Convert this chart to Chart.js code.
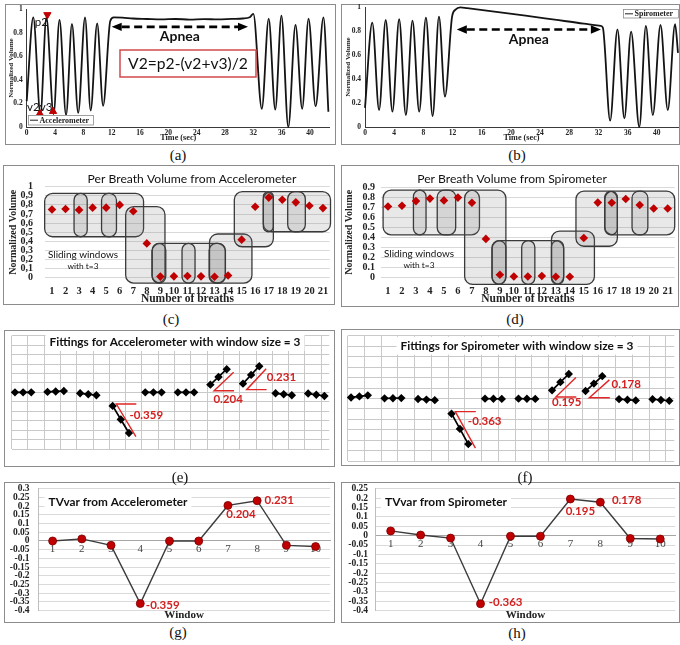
<!DOCTYPE html>
<html lang="en">
<head>
<meta charset="utf-8">
<title>Accelerometer and spirometer: per-breath volume and TVvar</title>
<script src="https://cdn.jsdelivr.net/npm/chart.js@4.4.1/dist/chart.umd.min.js"></script>
<style>
  html, body { margin: 0; padding: 0; background: #ffffff; }
  body { position: relative; width: 680px; height: 645px; overflow: hidden; }
  .frame { position: absolute; box-sizing: border-box; border: 1px solid #8c8c8c; }
  canvas.plot { position: absolute; }
  .cap { position: absolute; width: 40px; height: 18px; margin: -9px 0 0 -20px; text-align: center;
         font: 15px 'Liberation Serif', 'Times New Roman', serif; line-height: 18px; color: #111; }
</style>
</head>
<body>
  <div class="frame" style="left:5px;top:4px;width:331px;height:141px"></div>
  <div class="frame" style="left:341px;top:4px;width:339px;height:141px"></div>
  <div class="frame" style="left:3px;top:165px;width:332px;height:140px"></div>
  <div class="frame" style="left:341px;top:165px;width:338px;height:142px"></div>
  <div class="frame" style="left:4px;top:330px;width:331px;height:137px"></div>
  <div class="frame" style="left:341px;top:329px;width:339px;height:137px"></div>
  <div class="frame" style="left:4px;top:482px;width:331px;height:141px"></div>
  <div class="frame" style="left:341px;top:482px;width:339px;height:141px"></div>

  <canvas id="chartA" class="plot" width="330" height="140" style="left:5px;top:4px"></canvas>
  <canvas id="chartB" class="plot" width="337" height="140" style="left:342px;top:4px"></canvas>
  <canvas id="chartC" class="plot" width="331" height="138" style="left:3px;top:168px"></canvas>
  <canvas id="chartD" class="plot" width="337" height="138" style="left:342px;top:168px"></canvas>
  <canvas id="chartE" class="plot" width="331" height="137" style="left:4px;top:330px"></canvas>
  <canvas id="chartF" class="plot" width="338" height="137" style="left:342px;top:330px"></canvas>
  <canvas id="chartG" class="plot" width="331" height="140" style="left:4px;top:482px"></canvas>
  <canvas id="chartH" class="plot" width="338" height="140" style="left:342px;top:482px"></canvas>

  <div class="cap" style="left:178px;top:155px">(a)</div>
  <div class="cap" style="left:517px;top:155px">(b)</div>
  <div class="cap" style="left:171px;top:319px">(c)</div>
  <div class="cap" style="left:515px;top:319px">(d)</div>
  <div class="cap" style="left:180px;top:477px">(e)</div>
  <div class="cap" style="left:525px;top:477px">(f)</div>
  <div class="cap" style="left:178px;top:632px">(g)</div>
  <div class="cap" style="left:517px;top:633px">(h)</div>

<script>
// ---------------- data ----------------
const timeTicks = [0, 4, 8, 12, 16, 20, 24, 28, 32, 36, 40];
const volumeTicks = [0, 0.2, 0.4, 0.6, 0.8, 1];

// Accelerometer trace: turning points of the breathing signal (s, normalized volume)
const accelTime = [0, 0.93, 1.94, 2.78, 3.8, 4.63, 5.56, 6.39, 7.27, 8.24,
  9.03, 9.95, 10.79, 11.8, 12.3, 13.5, 15, 17, 19, 21,
  23, 25, 27, 29, 30.5, 31.5, 32.0, 33.2, 34.17, 35.1,
  35.97, 36.94, 37.96, 38.9, 39.8, 40.8, 41.9, 42.6];
const accelVolume = [0.22, 0.93, 0.11, 0.93, 0.11, 0.91, 0.10, 0.875, 0.12, 0.93,
  0.14, 0.88, 0.18, 0.90, 0.93, 0.928, 0.921, 0.917, 0.913, 0.917,
  0.912, 0.916, 0.913, 0.918, 0.921, 0.932, 0.96, 0.155, 0.92, 0.147,
  0.945, 0.0, 0.867, 0.155, 0.92, 0.175, 0.93, 0.13];

// Spirometer trace
const spiroTime = [0, 1.0, 1.93, 2.84, 3.76, 4.68, 5.6, 6.51, 7.43, 8.35,
  9.27, 10.14, 10.96, 11.93, 12.4, 13.07, 14, 18, 22, 26,
  30, 32.3, 32.6, 33.6, 34.6, 35.55, 36.47, 37.6, 38.5, 39.45,
  40.5, 41.5, 42.5, 42.9];
const spiroVolume = [0.16, 0.872, 0.142, 0.894, 0.128, 0.9, 0.1, 0.889, 0.128, 0.914,
  0.092, 0.922, 0.253, 0.92, 0.98, 1.0, 0.993, 0.962, 0.93, 0.897,
  0.864, 0.845, 0.83, 0.053, 0.816, 0.072, 0.797, 0.0, 0.844, 0.1,
  0.852, 0.142, 0.86, 0.62];

// Peak p2 and valleys v2, v3 marked on the accelerometer trace
const markerNames = ['p2', 'v2', 'v3'];
const markerTime = [2.92, 1.85, 3.72];
const markerVolume = [0.953, 0.114, 0.133];

// Apnea span: [from s, to s, volume level of the arrow]
const apneaAccel = [12.0, 31.25, 0.85];
const apneaSpiro = [12.58, 32.33, 0.814];

const breathLabels = ['1', '2', '3', '4', '5', '6', '7', '8', '9', '10', '11',
  '12', '13', '14', '15', '16', '17', '18', '19', '20', '21'];
const accelBreathVolume = [0.75, 0.755, 0.745, 0.77, 0.77, 0.80, 0.73, 0.377, 0.012, 0.015, 0.018,
  0.015, 0.01, 0.025, 0.418, 0.78, 0.88, 0.857, 0.828, 0.79, 0.765];
const spiroBreathVolume = [0.71, 0.718, 0.765, 0.79, 0.772, 0.80, 0.748, 0.384, 0.022, 0.005, 0.005,
  0.01, 0.003, 0.003, 0.393, 0.75, 0.749, 0.786, 0.725, 0.69, 0.69];
const accelBreathTicks = [0, 0.1, 0.2, 0.3, 0.4, 0.5, 0.6, 0.7, 0.8, 0.9, 1];
const spiroBreathTicks = [0, 0.1, 0.2, 0.3, 0.4, 0.5, 0.6, 0.7, 0.8, 0.9];

// Sliding-window outlines: [first breath edge, last breath edge, low, high, corner radius]
const accelWindowBoxes = [
  [0.46, 7.76, 0.45, 0.927, 8], [6.44, 9.34, -0.06, 0.78, 8], [8.39, 13.8, -0.06, 0.377, 8],
  [12.63, 15.76, -0.06, 0.48, 8], [14.46, 17.34, 0.34, 0.945, 8], [16.6, 21.56, 0.505, 0.945, 8],
  [2.63, 3.6, 0.45, 0.927, 7], [4.66, 5.76, 0.45, 0.927, 7], [8.39, 9.4, -0.06, 0.377, 7],
  [10.6, 11.56, -0.06, 0.377, 7], [12.6, 13.8, -0.06, 0.377, 7], [16.6, 17.34, 0.505, 0.945, 7],
  [18.4, 19.7, 0.505, 0.945, 7]
];
const spiroWindowBoxes = [
  [0.65, 7.54, 0.425, 0.876, 8], [6.48, 9.43, -0.075, 0.876, 8], [8.44, 13.56, -0.075, 0.367, 8],
  [12.69, 15.76, -0.075, 0.462, 8], [14.44, 17.4, 0.31, 0.866, 8], [16.5, 21.5, 0.425, 0.866, 8],
  [2.82, 3.72, 0.425, 0.876, 7], [4.52, 5.84, 0.425, 0.876, 7], [8.44, 9.43, -0.075, 0.367, 7],
  [10.56, 11.5, -0.075, 0.367, 7], [12.69, 13.56, -0.075, 0.367, 7], [16.5, 17.4, 0.425, 0.866, 7],
  [18.45, 19.58, 0.425, 0.866, 7]
];

const windowLabels = ['1', '2', '3', '4', '5', '6', '7', '8', '9', '10'];
const accelTVvar = [0.0, 0.012, -0.025, -0.359, 0.0, 0.0, 0.204, 0.231, -0.025, -0.032];
const spiroTVvar = [0.025, 0.003, -0.013, -0.363, -0.003, -0.003, 0.195, 0.178, -0.015, -0.018];
const accelTVTicks = [-0.4, -0.35, -0.3, -0.25, -0.2, -0.15, -0.1, -0.05, 0, 0.05, 0.1, 0.15, 0.2, 0.25, 0.3];
const spiroTVTicks = [-0.4, -0.35, -0.3, -0.25, -0.2, -0.15, -0.1, -0.05, 0, 0.05, 0.1, 0.15, 0.2, 0.25];
const labelledWindows = [3, 6, 7]; // windows whose slope value is written next to them

// ---------------- shared setup ----------------
const SERIF = "'Liberation Serif', 'Times New Roman', serif";
const SANS = "Lato, 'Open Sans', sans-serif";

Chart.defaults.font.family = SERIF;
Chart.defaults.color = '#1a1a1a';
Chart.defaults.animation = false;
Chart.defaults.responsive = false;
Chart.defaults.maintainAspectRatio = false;
Chart.defaults.devicePixelRatio = 1;
Chart.defaults.events = [];
Chart.defaults.plugins.legend.display = false;
Chart.defaults.plugins.tooltip.enabled = false;

const noPad = s => { s.paddingLeft = s.paddingRight = s.paddingTop = s.paddingBottom = 0; };
const fixWidth = w => s => { s.width = w; noPad(s); };
const fixHeight = h => s => { s.height = h; noPad(s); };
const tickList = list => s => { s.ticks = list.map(v => ({ value: v })); };
const plain = v => String(Math.round(v * 1000) / 1000);
const decimalComma = v => plain(v).replace('.', ',');
const NO_GRID = { display: false, drawTicks: false };

function fontSizeFor(ctx, str, width, weight, family) {
  ctx.save();
  ctx.font = `${weight} 20px ${family}`;
  const w = ctx.measureText(str).width;
  ctx.restore();
  return 20 * width / w;
}
function text(ctx, str, x, y, o = {}) {
  ctx.save();
  ctx.font = `${o.weight || 'normal'} ${o.size || 12}px ${o.family || SANS}`;
  ctx.fillStyle = o.color || '#111';
  ctx.textAlign = o.align || 'center';
  ctx.textBaseline = 'middle';
  ctx.fillText(str, x, y);
  ctx.restore();
}
function fittedText(ctx, str, cx, cy, width, o = {}) {
  const size = fontSizeFor(ctx, str, width, o.weight || 'normal', o.family || SANS);
  if (o.background) {
    ctx.save();
    ctx.fillStyle = o.background;
    ctx.fillRect(cx - width / 2 - 4, cy - size * 0.75, width + 8, size * 1.5);
    ctx.restore();
  }
  text(ctx, str, cx, cy, Object.assign({}, o, { size }));
}
function roundedRect(ctx, x, y, w, h, r) {
  r = Math.max(0, Math.min(r, w / 2, h / 2));
  ctx.beginPath();
  ctx.moveTo(x + r, y);
  ctx.lineTo(x + w - r, y); ctx.arcTo(x + w, y, x + w, y + r, r);
  ctx.lineTo(x + w, y + h - r); ctx.arcTo(x + w, y + h, x + w - r, y + h, r);
  ctx.lineTo(x + r, y + h); ctx.arcTo(x, y + h, x, y + h - r, r);
  ctx.lineTo(x, y + r); ctx.arcTo(x, y, x + r, y, r);
  ctx.closePath();
}
function apneaArrow(ctx, xa, xb, yy) {
  const head = 10, half = 4.2;
  ctx.save();
  ctx.strokeStyle = '#000'; ctx.lineWidth = 2.6; ctx.setLineDash([8, 4.5]);
  ctx.beginPath(); ctx.moveTo(xa + head, yy); ctx.lineTo(xb - head, yy); ctx.stroke();
  ctx.setLineDash([]); ctx.fillStyle = '#000';
  ctx.beginPath(); ctx.moveTo(xa, yy); ctx.lineTo(xa + head, yy - half); ctx.lineTo(xa + head, yy + half); ctx.closePath(); ctx.fill();
  ctx.beginPath(); ctx.moveTo(xb, yy); ctx.lineTo(xb - head, yy - half); ctx.lineTo(xb - head, yy + half); ctx.closePath(); ctx.fill();
  ctx.restore();
}
function legendBox(ctx, x, y, w, h, label) {
  ctx.save();
  ctx.fillStyle = '#fff'; ctx.fillRect(x, y, w, h);
  ctx.strokeStyle = '#8a8a8a'; ctx.lineWidth = 0.8; ctx.strokeRect(x + 0.5, y + 0.5, w, h);
  ctx.strokeStyle = '#555'; ctx.lineWidth = 1.3;
  ctx.beginPath(); ctx.moveTo(x + 2, y + h / 2 + 0.5); ctx.lineTo(x + 10, y + h / 2 + 0.5); ctx.stroke();
  ctx.restore();
  text(ctx, label, x + 11.5, y + h / 2 + 0.8, { family: SERIF, weight: 'bold', size: 8, align: 'left', color: '#222' });
}

// ---------------- (a), (b): volume traces ----------------
function traceChart(id, times, vols, g, extraSets, decor) {
  return new Chart(document.getElementById(id), {
    type: 'line',
    data: {
      datasets: [{
        data: times.map((t, i) => ({ x: t, y: vols[i] })),
        borderColor: '#141414', borderWidth: 1.8, pointRadius: 0,
        cubicInterpolationMode: 'monotone', clip: false, order: 2
      }].concat(extraSets)
    },
    options: {
      layout: { padding: { left: 0, top: g.T, right: g.W - g.R, bottom: 0 } },
      scales: {
        x: {
          type: 'linear', min: 0, max: g.max,
          afterBuildTicks: tickList(timeTicks), afterFit: fixHeight(g.H - g.B),
          grid: NO_GRID, border: { color: '#3a3a3a' },
          ticks: { font: { size: 7.5, weight: 'bold' }, padding: 1.5, maxRotation: 0, autoSkip: false, color: '#222' },
          title: { display: true, text: 'Time (sec)', font: { size: 8.2, weight: 'bold' }, padding: { top: 0, bottom: 1.5 }, color: '#222' }
        },
        y: {
          min: 0, max: 1,
          afterBuildTicks: tickList(volumeTicks), afterFit: fixWidth(g.L),
          grid: NO_GRID, border: { color: '#3a3a3a' },
          ticks: { callback: plain, font: { size: 7.5, weight: 'bold' }, padding: 4, autoSkip: false, color: '#222' },
          title: { display: true, text: 'Normalized Volume', font: { size: 7, weight: 'bold' }, padding: { top: 2, bottom: 0 }, color: '#222' }
        }
      }
    },
    plugins: [decor]
  });
}

const accelDecor = {
  id: 'accelDecor',
  afterDatasetsDraw(chart) {
    const { ctx, scales: { x, y } } = chart;
    const xa = x.getPixelForValue(apneaAccel[0]), xb = x.getPixelForValue(apneaAccel[1]);
    const ya = y.getPixelForValue(apneaAccel[2]);
    apneaArrow(ctx, xa, xb, ya);
    fittedText(ctx, 'Apnea', (xa + xb) / 2, ya + 9.5, 40, { weight: 'bold' });

    // formula box
    ctx.save();
    ctx.fillStyle = '#fff'; ctx.fillRect(115, 46, 136, 27);
    ctx.strokeStyle = '#d24a4a'; ctx.lineWidth = 1.5; ctx.strokeRect(115, 46, 136, 27);
    ctx.restore();
    fittedText(ctx, 'V2=p2-(v2+v3)/2', 183, 59.5, 120, {});

    const offsets = [[-6, 8], [-6.5, -6.5], [-7, -4.5]];
    markerNames.forEach((name, i) => {
      const px = x.getPixelForValue(markerTime[i]), py = y.getPixelForValue(markerVolume[i]);
      text(ctx, name, px + offsets[i][0], py + offsets[i][1], { size: 11.5 });
    });
    legendBox(ctx, 23, 111, 65, 9.5, 'Accelerometer');
  }
};

const spiroDecor = {
  id: 'spiroDecor',
  afterDatasetsDraw(chart) {
    const { ctx, scales: { x, y } } = chart;
    const xa = x.getPixelForValue(apneaSpiro[0]), xb = x.getPixelForValue(apneaSpiro[1]);
    const ya = y.getPixelForValue(apneaSpiro[2]);
    apneaArrow(ctx, xa, xb, ya);
    fittedText(ctx, 'Apnea', (xa + xb) / 2, ya + 9.5, 40, { weight: 'bold' });
    legendBox(ctx, 281, 5, 55, 8.5, 'Spirometer');
  }
};

traceChart('chartA', accelTime, accelVolume,
  { W: 330, H: 140, L: 21.7, R: 329, T: 2.7, B: 123, max: 42.8 },
  [{
    data: markerTime.map((t, i) => ({ x: t, y: markerVolume[i] })),
    showLine: false, pointStyle: 'triangle', pointRadius: 4.2, pointRotation: [180, 0, 0],
    pointBackgroundColor: '#c00000', pointBorderColor: '#c00000', clip: false, order: 1
  }],
  accelDecor);

traceChart('chartB', spiroTime, spiroVolume,
  { W: 337, H: 140, L: 23, R: 336, T: 3.3, B: 123, max: 42.9 }, [], spiroDecor);

// ---------------- (c), (d): per-breath volume ----------------
function breathChart(id, vols, g) {
  return new Chart(document.getElementById(id), {
    type: 'line',
    data: {
      labels: breathLabels,
      datasets: [{
        data: vols, showLine: false, pointStyle: 'rectRot', pointRadius: 4.3,
        pointBackgroundColor: '#c00000', pointBorderColor: '#c00000', pointBorderWidth: 0, clip: false
      }]
    },
    options: {
      layout: { padding: { left: 0, top: g.T, right: g.W - g.R, bottom: 0 } },
      scales: {
        x: {
          type: 'category', offset: true, afterFit: fixHeight(g.H - g.B),
          grid: NO_GRID, border: { display: false },
          ticks: { font: { size: 10.5, weight: 'bold' }, padding: g.xPad, autoSkip: false, maxRotation: 0, color: '#222' },
          title: { display: true, text: 'Number of breaths', font: { size: 11.5, weight: 'bold' }, padding: { top: 0, bottom: 0 }, color: '#222' }
        },
        y: {
          min: 0, max: g.max, afterBuildTicks: tickList(g.ticks), afterFit: fixWidth(g.L),
          grid: { color: '#d9d9d9', drawTicks: false }, border: { display: false },
          ticks: { callback: g.fmt, font: { size: 10, weight: 'bold' }, padding: g.yPad, autoSkip: false, color: '#222' },
          title: { display: true, text: 'Normalized Volume', font: { size: 10, weight: 'bold' }, padding: { top: g.ytPad, bottom: 0 }, color: '#222' }
        }
      }
    },
    plugins: [{
      id: 'slidingWindows',
      beforeDatasetsDraw(chart) {
        const { ctx, scales: { x, y } } = chart;
        ctx.save();
        g.boxes.forEach(([b0, b1, lo, hi, r]) => {
          const x0 = x.getPixelForValue(b0 - 1), x1 = x.getPixelForValue(b1 - 1);
          const y0 = y.getPixelForValue(hi), y1 = y.getPixelForValue(lo);
          roundedRect(ctx, x0, y0, x1 - x0, y1 - y0, r);
          ctx.fillStyle = 'rgba(120,120,120,0.17)'; ctx.fill();
          ctx.strokeStyle = '#3a3a3a'; ctx.lineWidth = 1.3; ctx.stroke();
        });
        ctx.restore();
        fittedText(ctx, 'Sliding windows', g.note[0], g.note[1], 70, {});
        fittedText(ctx, 'with t=3', g.note[0], g.note[1] + 11, 31, {});
        fittedText(ctx, g.title, g.titlePos[0], g.titlePos[1], g.titleWidth, {});
      }
    }]
  });
}

breathChart('chartC', accelBreathVolume, {
  W: 331, H: 138, L: 42.2, R: 328.8, T: 18.7, B: 109.7, max: 1, ticks: accelBreathTicks, fmt: decimalComma,
  xPad: 7, yPad: 12.2, ytPad: 4, boxes: accelWindowBoxes, note: [80, 87],
  title: 'Per Breath Volume from Accelerometer', titlePos: [189, 11], titleWidth: 209
});
breathChart('chartD', spiroBreathVolume, {
  W: 337, H: 138, L: 39, R: 335, T: 19.7, B: 109, max: 0.9, ticks: spiroBreathTicks, fmt: plain,
  xPad: 7.7, yPad: 6, ytPad: 1.3, boxes: spiroWindowBoxes, note: [77, 86],
  title: 'Per Breath Volume from Spirometer', titlePos: [170, 11], titleWidth: 190
});

// ---------------- (e), (f): line fitted in each window ----------------
function fittedLines(slopes) {
  const pts = [];
  slopes.forEach((s, k) => {
    for (let j = 0; j < 3; j++) pts.push({ x: 4 * k + j, y: s * (j + 1) });
    pts.push({ x: 4 * k + 3, y: null });
  });
  return pts;
}

function fittingChart(id, slopes, g) {
  return new Chart(document.getElementById(id), {
    type: 'line',
    data: {
      datasets: [{
        data: fittedLines(slopes), borderColor: '#000', borderWidth: 1.7,
        pointStyle: 'rectRot', pointRadius: 3, pointBackgroundColor: '#000', pointBorderColor: '#000',
        spanGaps: false, clip: false
      }]
    },
    options: {
      layout: { padding: { left: 0, top: g.T, right: g.W - g.R, bottom: 0 } },
      scales: {
        x: {
          type: 'linear', min: -0.4, max: 38.6,
          afterBuildTicks: s => { const t = []; for (let v = -0.4; v < 38.6; v += 2) t.push({ value: v }); s.ticks = t; },
          afterFit: fixHeight(g.H - g.B),
          ticks: { display: false }, grid: { color: '#c9c9c9', drawTicks: false }, border: { display: false }
        },
        y: {
          min: -1.5, max: 1.5,
          afterBuildTicks: s => { const t = []; for (let i = 0; i <= 12; i++) t.push({ value: -1.5 + 0.25 * i }); s.ticks = t; },
          afterFit: fixWidth(g.L),
          ticks: { display: false }, grid: { color: '#c9c9c9', drawTicks: false }, border: { display: false }
        }
      }
    },
    plugins: [{
      id: 'fitSlopes',
      beforeDatasetsDraw(chart) {
        fittedText(chart.ctx, g.title, g.titlePos[0], g.titlePos[1], g.titleWidth, { weight: 'bold', background: '#fff' });
      },
      afterDatasetsDraw(chart) {
        const { ctx, scales: { x, y } } = chart;
        labelledWindows.forEach((k, i) => {
          const s = slopes[k];
          const cx = 4 * k + 0.45, cy = s + (s < 0 ? 0.05 : -0.16);
          ctx.save();
          ctx.strokeStyle = '#e02626'; ctx.lineWidth = 1.4;
          ctx.beginPath();
          ctx.moveTo(x.getPixelForValue(cx + 2.45), y.getPixelForValue(cy));
          ctx.lineTo(x.getPixelForValue(cx), y.getPixelForValue(cy));
          ctx.lineTo(x.getPixelForValue(cx + 2.4), y.getPixelForValue(cy + 2.4 * s));
          ctx.stroke();
          ctx.restore();
          const px = x.getPixelForValue(4 * k), py = y.getPixelForValue(s);
          text(ctx, s.toFixed(3), px + g.offsets[i][0], py + g.offsets[i][1],
            { weight: 'bold', size: 11.5, color: '#d42020', align: 'left' });
        });
      }
    }]
  });
}

fittingChart('chartE', accelTVvar, {
  W: 331, H: 137, L: 7.7, R: 328, T: 2, B: 119,
  title: 'Fittings for Accelerometer with window size = 3', titlePos: [171, 12], titleWidth: 251,
  offsets: [[16.7, 9], [3, 15], [23.7, -6]]
});
fittingChart('chartF', spiroTVvar, {
  W: 338, H: 137, L: 5.3, R: 334.8, T: 2, B: 132,
  title: 'Fittings for Spirometer with window size = 3', titlePos: [175, 15.7], titleWidth: 233,
  offsets: [[16.3, 7.7], [0, 12.3], [26, -6.6]]
});

// ---------------- (g), (h): TVvar per window ----------------
function tvChart(id, tv, g) {
  return new Chart(document.getElementById(id), {
    type: 'line',
    data: {
      labels: windowLabels,
      datasets: [{
        data: tv, borderColor: '#3c3c3c', borderWidth: 1.4, tension: 0,
        pointRadius: 4, pointBackgroundColor: '#c00000', pointBorderColor: '#7a0000', pointBorderWidth: 0.8, clip: false
      }]
    },
    options: {
      layout: { padding: { left: 0, top: g.T, right: g.W - g.R, bottom: g.H - g.B } },
      scales: {
        x: {
          type: 'category', offset: true, position: { y: 0 }, afterFit: noPad,
          grid: NO_GRID, border: { color: '#a6a6a6' },
          ticks: { font: { size: 11 }, color: '#444', padding: 2, autoSkip: false, maxRotation: 0 }
        },
        y: {
          min: -0.4, max: g.max, afterBuildTicks: tickList(g.ticks), afterFit: fixWidth(g.L),
          grid: { color: '#dadada', drawTicks: false }, border: { color: '#bdbdbd' },
          ticks: { callback: plain, autoSkip: false, font: { size: 9.5, weight: 'bold' }, padding: g.yPad, color: '#222' }
        }
      }
    },
    plugins: [{
      id: 'tvLabels',
      beforeDatasetsDraw(chart) {
        fittedText(chart.ctx, g.title, g.titlePos[0], g.titlePos[1], g.titleWidth, { weight: 'bold', background: '#fff' });
      },
      afterDatasetsDraw(chart) {
        const { ctx, chartArea: ca } = chart;
        const pts = chart.getDatasetMeta(0).data;
        labelledWindows.forEach((k, i) => {
          text(ctx, tv[k].toFixed(3), pts[k].x + g.offsets[i][0], pts[k].y + g.offsets[i][1],
            { weight: 'bold', size: 11.5, color: '#d42020', align: 'left' });
        });
        text(ctx, 'Window', (ca.left + ca.right) / 2, ca.bottom + 4, { family: SERIF, weight: 'bold', size: 11, color: '#222' });
      }
    }]
  });
}

tvChart('chartG', accelTVvar, {
  W: 331, H: 140, L: 34, R: 329, T: 6.7, B: 128.7, max: 0.3, ticks: accelTVTicks, yPad: 8.5,
  title: 'TVvar from Accelerometer', titlePos: [114, 20], titleWidth: 139,
  offsets: [[5.6, 1.7], [-1.7, 9.3], [7.4, -0.6]]
});
tvChart('chartH', spiroTVvar, {
  W: 338, H: 140, L: 33.7, R: 333.7, T: 6.7, B: 128.7, max: 0.25, ticks: spiroTVTicks, yPad: 7.7,
  title: 'TVvar from Spirometer', titlePos: [104, 20], titleWidth: 122,
  offsets: [[8.3, -1.7], [-4.7, 12.3], [11.6, -2.3]]
});
</script>
</body>
</html>
